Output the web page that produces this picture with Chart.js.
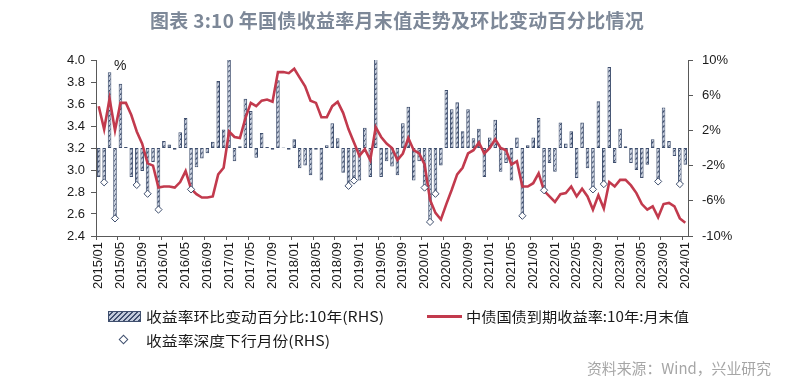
<!DOCTYPE html>
<html><head><meta charset="utf-8">
<script src="https://cdn.jsdelivr.net/npm/chart.js@4.4.1/dist/chart.umd.min.js"></script>
<style>
html,body{margin:0;padding:0;background:#fff;}
#wrap{position:relative;width:794px;height:388px;overflow:hidden;background:#fff;font-family:"Noto Sans CJK SC","Noto Sans",sans-serif;}
#c{position:absolute;left:0;top:0;}
.t{position:absolute;white-space:nowrap;}
#title{left:0;top:6px;width:794px;text-align:center;font-size:19px;font-weight:bold;color:#7d8898;letter-spacing:0.3px;}
.lg{font-size:14px;color:#1a1a1a;line-height:18px;transform-origin:0 50%;}
#pct{left:114px;top:57px;font-family:"Liberation Sans",Arial,sans-serif;font-size:14px;color:#1a1a1a;}
#src{top:357px;font-size:15px;color:#a6a6a6;transform-origin:0 50%;}
#sw1{position:absolute;left:108px;top:311px;width:31px;height:9px;border:1px solid #3f4f6e;
 background:repeating-linear-gradient(135deg,#c3cbdb 0 2px,#3f4f6e 2px 3.5px);}
#sw2{position:absolute;left:427px;top:315px;width:35px;height:3px;background:#c23a4d;}
#sw3{position:absolute;left:120px;top:336px;width:5px;height:5px;border:1px solid #3f4f6e;background:#fff;transform:rotate(45deg);}
</style></head>
<body>
<div id="wrap">
<canvas id="c" width="794" height="388"></canvas>
<div class="t" id="title">图表 3:10 年国债收益率月末值走势及环比变动百分比情况</div>
<div class="t" id="pct">%</div>
<div id="sw1"></div>
<div class="t lg" id="l1" data-l="146" data-w="238" style="top:307px;">收益率环比变动百分比:10年(RHS)</div>
<div id="sw2"></div>
<div class="t lg" id="l2" data-l="466" data-w="223" style="top:307px;">中债国债到期收益率:10年:月末值</div>
<div id="sw3"></div>
<div class="t lg" id="l3" data-l="146" data-w="184" style="top:331px;">收益率深度下行月份(RHS)</div>
<div class="t" id="src" data-l="587" data-w="184">资料来源：Wind，兴业研究</div>
</div>
<script>
const labels2015 = ['2015/01','2015/02','2015/03','2015/04','2015/05','2015/06','2015/07','2015/08','2015/09','2015/10','2015/11','2015/12'];
const labels2016 = ['2016/01','2016/02','2016/03','2016/04','2016/05','2016/06','2016/07','2016/08','2016/09','2016/10','2016/11','2016/12'];
const labels2017 = ['2017/01','2017/02','2017/03','2017/04','2017/05','2017/06','2017/07','2017/08','2017/09','2017/10','2017/11','2017/12'];
const labels2018 = ['2018/01','2018/02','2018/03','2018/04','2018/05','2018/06','2018/07','2018/08','2018/09','2018/10','2018/11','2018/12'];
const labels2019 = ['2019/01','2019/02','2019/03','2019/04','2019/05','2019/06','2019/07','2019/08','2019/09','2019/10','2019/11','2019/12'];
const labels2020 = ['2020/01','2020/02','2020/03','2020/04','2020/05','2020/06','2020/07','2020/08','2020/09','2020/10','2020/11','2020/12'];
const labels2021 = ['2021/01','2021/02','2021/03','2021/04','2021/05','2021/06','2021/07','2021/08','2021/09','2021/10','2021/11','2021/12'];
const labels2022 = ['2022/01','2022/02','2022/03','2022/04','2022/05','2022/06','2022/07','2022/08','2022/09','2022/10','2022/11','2022/12'];
const labels2023 = ['2023/01','2023/02','2023/03','2023/04','2023/05','2023/06','2023/07','2023/08','2023/09','2023/10','2023/11','2023/12'];
const labels2024 = ['2024/01'];
const months = [].concat(labels2015,labels2016,labels2017,labels2018,labels2019,labels2020,labels2021,labels2022,labels2023,labels2024);

// 中债国债到期收益率:10年:月末值 (%)
const yield10y = [
  3.58,3.37,3.65,3.36,3.61,3.61,3.50,3.35,3.24,3.06,3.04,2.84,
  2.85,2.85,2.84,2.89,2.99,2.83,2.78,2.75,2.75,2.76,2.96,3.02,
  3.35,3.30,3.29,3.47,3.61,3.58,3.63,3.64,3.62,3.89,3.89,3.88,
  3.92,3.84,3.76,3.63,3.61,3.48,3.48,3.58,3.62,3.52,3.37,3.25,
  3.13,3.19,3.09,3.39,3.30,3.24,3.20,3.09,3.15,3.29,3.18,3.15,
  3.05,2.73,2.61,2.55,2.69,2.82,2.96,3.02,3.15,3.18,3.25,3.15,
  3.20,3.28,3.20,3.18,3.05,3.08,2.85,2.85,2.88,2.97,2.81,2.76,
  2.71,2.78,2.79,2.85,2.76,2.83,2.76,2.64,2.77,2.65,2.89,2.85,
  2.91,2.91,2.86,2.79,2.69,2.64,2.67,2.57,2.69,2.70,2.67,2.56,
  2.52
];
// 收益率环比变动百分比:10年 (%)
const momChange = [
  -3.3,-3.9,8.6,-8.0,7.3,0.1,-3.3,-4.2,-2.6,-5.2,-1.6,-7.0,
  0.8,0.4,-0.2,1.8,3.4,-4.7,-2.2,-1.2,-0.6,0.7,7.6,2.1,
  10.6,-1.5,0.2,5.6,4.2,-1.1,1.7,0.1,-0.2,7.7,0.05,-0.2,
  1.0,-2.3,-2.0,-3.1,-0.2,-3.7,0.3,2.8,1.1,-2.8,-4.3,-3.7,
  -3.7,2.3,-3.3,10.4,-3.3,-1.5,-2.1,-3.1,2.8,4.7,-3.7,-1.5,
  -4.5,-8.4,-5.2,-2.0,6.6,4.4,5.2,1.9,4.4,1.1,2.2,-3.3,
  1.2,3.2,-2.7,-1.7,-3.7,1.2,-7.7,0.3,1.2,3.4,-4.8,-1.7,
  -2.7,2.9,0.5,1.9,-3.4,2.9,-2.3,-4.7,5.3,-4.1,9.2,-1.7,
  2.2,0.2,-1.7,-2.5,-3.4,-1.9,1.0,-3.8,4.6,0.8,-0.9,-4.1,
  -1.9
];
// 收益率深度下行月份 (RHS, %)
const deepDown = [
  null,-3.9,null,-8.0,null,null,null,-4.2,null,-5.2,null,-7.0,
  null,null,null,null,null,-4.7,null,null,null,null,null,null,
  null,null,null,null,null,null,null,null,null,null,null,null,
  null,null,null,null,null,null,null,null,null,null,-4.3,-3.7,
  null,null,null,null,null,null,null,null,null,null,null,null,
  -4.5,-8.4,-5.2,null,null,null,null,null,null,null,null,null,
  null,null,null,null,null,null,-7.7,null,null,null,-4.8,null,
  null,null,null,null,null,null,null,-4.7,null,-4.1,null,null,
  null,null,null,null,null,null,null,-3.8,null,null,null,-4.1,
  null
];
const leftTicks = {min:2.4, max:4.0, step:0.2};
const rightTicks = {min:-10, max:10, step:4};

// fit legend / source text widths
document.querySelectorAll('[data-w]').forEach(el=>{
  el.style.left = el.dataset.l + 'px';
  const w = el.getBoundingClientRect().width;
  el.style.transform = 'scaleX(' + (parseFloat(el.dataset.w)/w) + ')';
});

function makePattern(){
  const c=document.createElement('canvas'); c.width=5; c.height=5;
  const g=c.getContext('2d');
  g.fillStyle='#c3cbdb'; g.fillRect(0,0,5,5);
  g.strokeStyle='#3f4f6e'; g.lineWidth=1.3;
  g.beginPath(); g.moveTo(-1,6); g.lineTo(6,-1); g.stroke();
  return g.createPattern(c,'repeat');
}
const axisColor = '#595959';
const tickFont = {family:'"Liberation Sans", Arial, sans-serif', size:13};

new Chart(document.getElementById('c'), {
  type:'bar',
  data:{
    labels: months,
    datasets:[
      {type:'line', label:'收益率深度下行月份(RHS)', data:deepDown, yAxisID:'y1', showLine:false,
       pointStyle:'rectRot', pointRadius:3.6, pointBackgroundColor:'#ffffff', pointBorderColor:'#3f4f6e',
       pointBorderWidth:1, order:0},
      {type:'line', label:'中债国债到期收益率:10年:月末值', data:yield10y, yAxisID:'y',
       borderColor:'#c23a4d', borderWidth:2.6, pointRadius:0, tension:0, order:1},
      {type:'bar', label:'收益率环比变动百分比:10年(RHS)', data:momChange, yAxisID:'y1',
       backgroundColor:makePattern(), borderColor:'#3f4f6e', borderWidth:1, borderSkipped:false,
       barPercentage:0.66, categoryPercentage:1, order:2}
    ]
  },
  options:{
    responsive:false, animation:false, events:[],
    layout:{padding:{top:60,left:0,right:0,bottom:0}},
    plugins:{legend:{display:false}, title:{display:false}, tooltip:{enabled:false}},
    scales:{
      x:{
        offset:true,
        grid:{display:true, drawOnChartArea:false, offset:true, tickLength:4,
              tickColor:(ctx)=> (ctx.index % 4 === 0 ? axisColor : 'rgba(0,0,0,0)')},
        border:{display:true, color:axisColor},
        ticks:{autoSkip:false, minRotation:90, maxRotation:90, padding:2, color:'#1a1a1a', font:tickFont,
               callback:function(v,i){ return i % 4 === 0 ? months[i] : ''; }},
        afterFit:(s)=>{ s.height = 152; }
      },
      y:{
        position:'left', min:leftTicks.min, max:leftTicks.max,
        grid:{drawOnChartArea:false, tickLength:5, tickColor:axisColor},
        border:{color:axisColor},
        ticks:{stepSize:leftTicks.step, padding:6, color:'#1a1a1a', font:tickFont,
               callback:(v)=> Number(v).toFixed(1)},
        afterFit:(s)=>{ s.width = 96; }
      },
      y1:{
        position:'right', min:rightTicks.min, max:rightTicks.max,
        grid:{drawOnChartArea:false, tickLength:5, tickColor:axisColor},
        border:{color:axisColor},
        ticks:{stepSize:rightTicks.step, padding:9, color:'#1a1a1a', font:tickFont,
               callback:(v)=> Math.round(v) + '%'},
        afterFit:(s)=>{ s.width = 106; }
      }
    }
  }
});
</script>
</body></html>
